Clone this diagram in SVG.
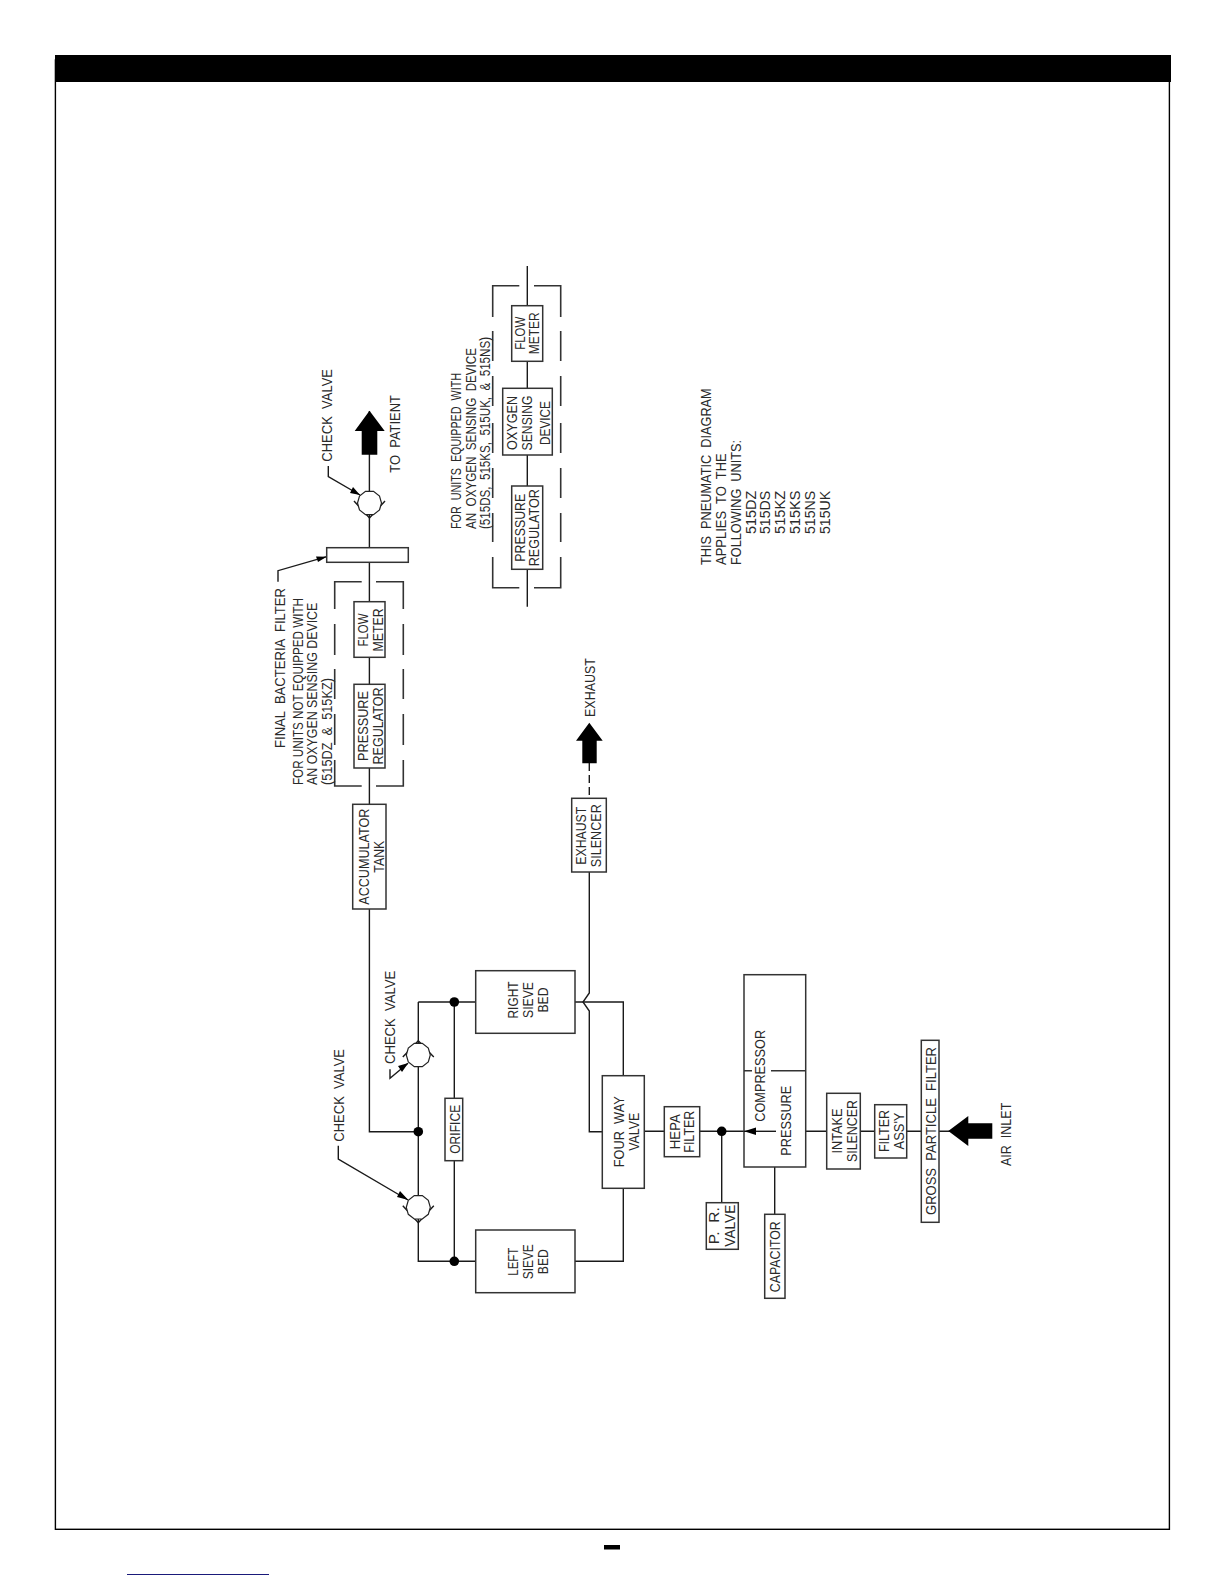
<svg xmlns="http://www.w3.org/2000/svg" width="1224" height="1584" viewBox="0 0 1224 1584">
<style>
text{font-family:"Liberation Sans",Arial,sans-serif;font-size:15.5px;fill:#2a2a2a;white-space:pre}
.b{fill:#fff;stroke:#333;stroke-width:1.5}
.v{fill:#fff;stroke:#222;stroke-width:1.2}
.l{fill:none;stroke:#1a1a1a;stroke-width:1.4}
.d{fill:none;stroke:#333;stroke-width:1.6}
.k{fill:#000;stroke:none}
</style>
<rect id="frame" x="55.4" y="60" width="1114" height="1469.3" fill="#fff" stroke="#000" stroke-width="1.4"/>
<rect id="title-bar" x="55" y="55" width="1116" height="27" fill="#000"/>
<rect id="page-mark" x="604" y="1545" width="16" height="4.5" fill="#000"/>
<line id="link-rule" x1="127" y1="1574.5" x2="269" y2="1574.5" stroke="#1a1a7a" stroke-width="1.2"/>

<g id="connectors">
<path class="l" d="M369.4 411V804M369.4 909V1131.7H418.3M418.3 1002V1261.3H476M418.3 1002H476M454.3 1002V1098M454.3 1161V1261.3"/>
<path class="l" d="M575 1002H623.3V1076M623.3 1188V1261.3H575"/>
<path class="l" d="M589.3 872V993L583 1002L589.3 1011V1131.7H602"/>
<path class="l" d="M644 1131.3H664M700 1131.3H776M793 1131.3H827M860 1131.3H875M907 1131.3H921M939 1131.3H950"/>
<path class="l" d="M721.7 1131.3V1203M774.7 1167V1214"/>
<path class="l" d="M527.3 266V606.7"/>
<path class="l" stroke-dasharray="8 4" d="M589.3 763V798"/>
<path class="l" d="M278 581.7V570.7L326.7 556.7M328.3 466V476.7L360 495M338.3 1145.7V1159L408 1200M390 1069.3V1078.3L408 1063.3"/>
<path class="k" d="M326.7 556.7L316 556.5L318 562ZM360 495L350 493L353 487ZM408.3 1200L397 1197L400 1191ZM408.3 1063L398 1066L402 1072Z"/>
<path class="d" d="M361.7 581.7H334.7V609M376 581.7H403.3V609M334.7 624V655M334.7 669V699M334.7 714V745M334.7 760V786H361.7M403.3 624V655M403.3 669V699M403.3 714V745M403.3 760V786H376"/>
<path class="d" d="M519.3 285.7H492.7V317M534 285.7H560.7V317M492.7 331V361M492.7 376V406M492.7 423V453M492.7 468V498M492.7 513V542M492.7 557V587.7H519.3M560.7 331V361M560.7 376V406M560.7 423V453M560.7 468V498M560.7 513V542M560.7 557V587.7H534"/>
<g class="k">
<circle cx="418.3" cy="1131.7" r="4.8"/><circle cx="454.3" cy="1002" r="4.8"/><circle cx="454.3" cy="1261.3" r="4.8"/><circle cx="721.7" cy="1131.3" r="4.8"/>
</g>
<path class="k" d="M369.5 410.7L384.7 431H377.3V454.7H361.7V431H354.7Z"/>
<path class="k" d="M589.3 722.7L602.7 740.7H596.7V763.3H582.3V740.7H576Z"/>
<path class="k" d="M948.3 1131L968.3 1116V1123.3H992.3V1138.7H968.3V1146Z"/>
</g>

<g id="check-valve-patient"><path class="l" d="M354 501L369.5 518L385 501"/><polygon class="v" points="365.5,491.3 373.5,491.3 379.5,496 381.5,503 379.5,510 373.5,514.7 365.5,514.7 359.5,510 357.5,503 359.5,496"/></g>
<g id="check-valve-left"><path class="l" d="M402.8 1205.7L418.3 1222.7L433.8 1205.7"/><polygon class="v" points="414.3,1195.6 422.3,1195.6 428.3,1200.3 430.3,1207.3 428.3,1214.3 422.3,1219 414.3,1219 408.3,1214.3 406.3,1207.3 408.3,1200.3"/></g>
<g id="check-valve-right"><path class="l" d="M402.8 1057L418.3 1040.7L433.8 1057"/><polygon class="v" points="414.3,1043.3 422.3,1043.3 428.3,1048 430.3,1055 428.3,1062 422.3,1066.7 414.3,1066.7 408.3,1062 406.3,1055 408.3,1048"/></g>

<g id="final-filter"><rect class="b" x="326.7" y="547.7" width="81.6" height="14.6"/></g>
<g id="flow-meter-a"><rect class="b" x="354" y="601.7" width="31" height="55.6"/>
<text transform="translate(368,630) rotate(-90)" text-anchor="middle" textLength="33" lengthAdjust="spacingAndGlyphs">FLOW</text>
<text transform="translate(382.6,630) rotate(-90)" text-anchor="middle" textLength="43" lengthAdjust="spacingAndGlyphs">METER</text></g>
<g id="pressure-regulator-a"><rect class="b" x="354" y="684.3" width="31" height="83.7"/>
<text transform="translate(368,726) rotate(-90)" text-anchor="middle" textLength="70" lengthAdjust="spacingAndGlyphs">PRESSURE</text>
<text transform="translate(382.6,726) rotate(-90)" text-anchor="middle" textLength="77" lengthAdjust="spacingAndGlyphs">REGULATOR</text></g>
<g id="accumulator"><rect class="b" x="352.7" y="804.3" width="33.3" height="104.7"/>
<text transform="translate(369,856.7) rotate(-90)" text-anchor="middle" textLength="96" lengthAdjust="spacingAndGlyphs">ACCUMULATOR</text>
<text transform="translate(383.8,856.7) rotate(-90)" text-anchor="middle" textLength="32" lengthAdjust="spacingAndGlyphs">TANK</text></g>
<g id="exhaust-silencer"><rect class="b" x="571.7" y="798.3" width="34.6" height="73.7"/>
<text transform="translate(586,835.7) rotate(-90)" text-anchor="middle" textLength="58" lengthAdjust="spacingAndGlyphs">EXHAUST</text>
<text transform="translate(600.8,835.7) rotate(-90)" text-anchor="middle" textLength="63" lengthAdjust="spacingAndGlyphs">SILENCER</text></g>
<g id="right-sieve"><rect class="b" x="475.7" y="970.7" width="99.3" height="62.6"/>
<text transform="translate(517.8,1000) rotate(-90)" text-anchor="middle" textLength="37" lengthAdjust="spacingAndGlyphs">RIGHT</text>
<text transform="translate(532.8,1000) rotate(-90)" text-anchor="middle" textLength="36" lengthAdjust="spacingAndGlyphs">SIEVE</text>
<text transform="translate(548.2,1000) rotate(-90)" text-anchor="middle" textLength="25" lengthAdjust="spacingAndGlyphs">BED</text></g>
<g id="left-sieve"><rect class="b" x="475.7" y="1230" width="99.3" height="62.7"/>
<text transform="translate(517.8,1261.7) rotate(-90)" text-anchor="middle" textLength="28" lengthAdjust="spacingAndGlyphs">LEFT</text>
<text transform="translate(532.8,1261.7) rotate(-90)" text-anchor="middle" textLength="35" lengthAdjust="spacingAndGlyphs">SIEVE</text>
<text transform="translate(548.2,1261.7) rotate(-90)" text-anchor="middle" textLength="25" lengthAdjust="spacingAndGlyphs">BED</text></g>
<g id="four-way-valve"><rect class="b" x="602.3" y="1075.7" width="42" height="112.6"/>
<text transform="translate(623.8,1131.7) rotate(-90)" text-anchor="middle" textLength="71" lengthAdjust="spacingAndGlyphs">FOUR  WAY</text>
<text transform="translate(638.8,1131.7) rotate(-90)" text-anchor="middle" textLength="38" lengthAdjust="spacingAndGlyphs">VALVE</text></g>
<g id="orifice"><rect class="b" x="445" y="1098.3" width="17.7" height="62.4"/>
<text transform="translate(460,1129.3) rotate(-90)" text-anchor="middle" textLength="49" lengthAdjust="spacingAndGlyphs">ORIFICE</text></g>
<g id="hepa-filter"><rect class="b" x="664.3" y="1106.7" width="35.4" height="50"/>
<text transform="translate(680,1131.7) rotate(-90)" text-anchor="middle" textLength="35" lengthAdjust="spacingAndGlyphs">HEPA</text>
<text transform="translate(694.2,1131.7) rotate(-90)" text-anchor="middle" textLength="42" lengthAdjust="spacingAndGlyphs">FILTER</text></g>
<g id="pr-valve"><rect class="b" x="706.3" y="1202.7" width="32" height="46.6"/>
<text transform="translate(719.3,1225.7) rotate(-90)" text-anchor="middle" textLength="37" lengthAdjust="spacingAndGlyphs">P.  R.</text>
<text transform="translate(734.8,1225.7) rotate(-90)" text-anchor="middle" textLength="42" lengthAdjust="spacingAndGlyphs">VALVE</text></g>
<g id="compressor"><rect class="b" x="744" y="974.7" width="61.7" height="192.3"/>
<path class="d" d="M744 1070.7H752M771 1070.7H805.7"/>
<path class="l" d="M744 1131.3H776"/>
<path class="k" d="M744 1131.3L756 1127.5V1135Z"/>
<text transform="translate(765,1075.8) rotate(-90)" text-anchor="middle" textLength="92" lengthAdjust="spacingAndGlyphs">COMPRESSOR</text>
<text transform="translate(791.2,1120.7) rotate(-90)" text-anchor="middle" textLength="70" lengthAdjust="spacingAndGlyphs">PRESSURE</text></g>
<g id="capacitor"><rect class="b" x="764.7" y="1214.3" width="20.3" height="84"/>
<text transform="translate(780,1256.7) rotate(-90)" text-anchor="middle" textLength="71" lengthAdjust="spacingAndGlyphs">CAPACITOR</text></g>
<g id="intake-silencer"><rect class="b" x="826.7" y="1093.3" width="33.6" height="75.7"/>
<text transform="translate(842.3,1131) rotate(-90)" text-anchor="middle" textLength="45" lengthAdjust="spacingAndGlyphs">INTAKE</text>
<text transform="translate(856.6,1131) rotate(-90)" text-anchor="middle" textLength="62" lengthAdjust="spacingAndGlyphs">SILENCER</text></g>
<g id="filter-assy"><rect class="b" x="874.7" y="1104.7" width="32" height="53.3"/>
<text transform="translate(889,1131) rotate(-90)" text-anchor="middle" textLength="42" lengthAdjust="spacingAndGlyphs">FILTER</text>
<text transform="translate(903.6,1131) rotate(-90)" text-anchor="middle" textLength="37" lengthAdjust="spacingAndGlyphs">ASS'Y</text></g>
<g id="gross-particle-filter"><rect class="b" x="921.3" y="1040.3" width="17.7" height="182"/>
<text transform="translate(935.6,1131) rotate(-90)" text-anchor="middle" textLength="168" lengthAdjust="spacingAndGlyphs">GROSS  PARTICLE  FILTER</text></g>
<g id="pressure-regulator-b"><rect class="b" x="511.7" y="486" width="31" height="83.3"/>
<text transform="translate(525,527.7) rotate(-90)" text-anchor="middle" textLength="68" lengthAdjust="spacingAndGlyphs">PRESSURE</text>
<text transform="translate(539.4,527.7) rotate(-90)" text-anchor="middle" textLength="77" lengthAdjust="spacingAndGlyphs">REGULATOR</text></g>
<g id="oxygen-sensing"><rect class="b" x="502.7" y="388.3" width="49.6" height="66.7"/>
<text transform="translate(517.3,423) rotate(-90)" text-anchor="middle" textLength="54" lengthAdjust="spacingAndGlyphs">OXYGEN</text>
<text transform="translate(531.7,423) rotate(-90)" text-anchor="middle" textLength="55" lengthAdjust="spacingAndGlyphs">SENSING</text>
<text transform="translate(550.2,423) rotate(-90)" text-anchor="middle" textLength="44" lengthAdjust="spacingAndGlyphs">DEVICE</text></g>
<g id="flow-meter-b"><rect class="b" x="511.7" y="305.7" width="31" height="55.6"/>
<text transform="translate(525,333.3) rotate(-90)" text-anchor="middle" textLength="33" lengthAdjust="spacingAndGlyphs">FLOW</text>
<text transform="translate(539.4,333.3) rotate(-90)" text-anchor="middle" textLength="42" lengthAdjust="spacingAndGlyphs">METER</text></g>

<g id="labels">
<text transform="translate(332.2,461.7) rotate(-90)" textLength="92.7" lengthAdjust="spacingAndGlyphs">CHECK  VALVE</text>
<text transform="translate(343.5,1141.7) rotate(-90)" textLength="92.7" lengthAdjust="spacingAndGlyphs">CHECK  VALVE</text>
<text transform="translate(394.5,1064) rotate(-90)" textLength="93.3" lengthAdjust="spacingAndGlyphs">CHECK  VALVE</text>
<text transform="translate(400,472.7) rotate(-90)" textLength="77.7" lengthAdjust="spacingAndGlyphs">TO  PATIENT</text>
<text transform="translate(285,748) rotate(-90)" textLength="160" lengthAdjust="spacingAndGlyphs">FINAL  BACTERIA  FILTER</text>
<text transform="translate(303.3,785) rotate(-90)" textLength="187" lengthAdjust="spacingAndGlyphs">FOR UNITS NOT EQUIPPED WITH</text>
<text transform="translate(317.3,785) rotate(-90)" textLength="182.3" lengthAdjust="spacingAndGlyphs">AN OXYGEN SENSING DEVICE</text>
<text transform="translate(331.5,785) rotate(-90)" textLength="107" lengthAdjust="spacingAndGlyphs">(515DZ  &amp;  515KZ)</text>
<text transform="translate(594.5,717) rotate(-90)" textLength="59" lengthAdjust="spacingAndGlyphs">EXHAUST</text>
<text transform="translate(1011,1166) rotate(-90)" textLength="63.3" lengthAdjust="spacingAndGlyphs">AIR  INLET</text>
<text transform="translate(461,529) rotate(-90)" textLength="156" lengthAdjust="spacingAndGlyphs">FOR  UNITS  EQUIPPED  WITH</text>
<text transform="translate(475.5,529) rotate(-90)" textLength="181" lengthAdjust="spacingAndGlyphs">AN  OXYGEN  SENSING  DEVICE</text>
<text transform="translate(489.5,529) rotate(-90)" textLength="192" lengthAdjust="spacingAndGlyphs">(515DS,  515KS,  515UK,  &amp;  515NS)</text>
<text transform="translate(711,565) rotate(-90)" textLength="176.7" lengthAdjust="spacingAndGlyphs">THIS  PNEUMATIC  DIAGRAM</text>
<text transform="translate(726,565) rotate(-90)" textLength="111.7" lengthAdjust="spacingAndGlyphs">APPLIES  TO  THE</text>
<text transform="translate(741,565) rotate(-90)" textLength="125" lengthAdjust="spacingAndGlyphs">FOLLOWING  UNITS:</text>
<text transform="translate(756,534) rotate(-90)" textLength="43.3" lengthAdjust="spacingAndGlyphs">515DZ</text>
<text transform="translate(770,534) rotate(-90)" textLength="43.3" lengthAdjust="spacingAndGlyphs">515DS</text>
<text transform="translate(785,534) rotate(-90)" textLength="43.3" lengthAdjust="spacingAndGlyphs">515KZ</text>
<text transform="translate(800,534) rotate(-90)" textLength="43.3" lengthAdjust="spacingAndGlyphs">515KS</text>
<text transform="translate(815,534) rotate(-90)" textLength="43.3" lengthAdjust="spacingAndGlyphs">515NS</text>
<text transform="translate(830,534) rotate(-90)" textLength="43.3" lengthAdjust="spacingAndGlyphs">515UK</text>
</g>
</svg>
